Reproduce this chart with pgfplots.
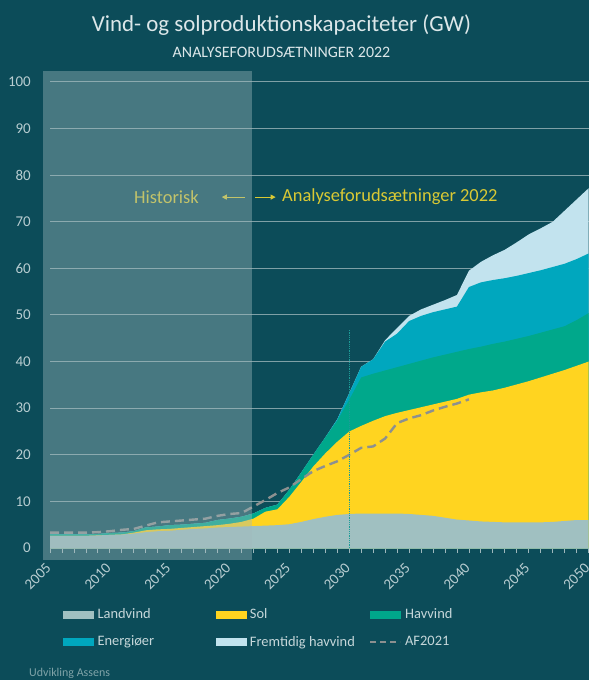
\documentclass[border=0pt]{standalone}
\usepackage{fontspec}
\setmainfont{Carlito}
\usepackage{pgfplots}
\usepackage{pgfplotstable}
\pgfplotsset{compat=1.18}
\usetikzlibrary{arrows.meta}
\definecolor{bg}{HTML}{0C4C59}
\definecolor{gridcol}{HTML}{7FA0A6}
\definecolor{tickcol}{HTML}{9FB8BC}
\definecolor{ticklab}{HTML}{B8CDD1}
\definecolor{titlecol}{HTML}{DCE7E9}
\definecolor{legcol}{HTML}{C6D7DA}
\definecolor{footcol}{HTML}{7FA3A8}
\definecolor{landcol}{HTML}{A0C0C1}
\definecolor{solcol}{HTML}{FFD420}
\definecolor{havcol}{HTML}{00A88B}
\definecolor{enecol}{HTML}{00A7BE}
\definecolor{fremcol}{HTML}{C2E3EE}
\definecolor{afcol}{HTML}{8C9090}
\definecolor{histcol}{HTML}{A0BABD}
\definecolor{annocol}{HTML}{D9C934}
\definecolor{dotcol}{HTML}{1C9C98}

% cumulative tops: L = Landvind, S = +Sol, H = +Havvind, E = +Energioeer, F = +Fremtidig havvind
\pgfplotstableread{
yr   L    S    H    E    F
2005 2.6  2.6  2.9  2.9  2.9
2006 2.6  2.6  2.9  2.9  2.9
2007 2.6  2.6  2.9  2.9  2.9
2008 2.6  2.6  2.9  2.9  2.9
2009 2.7  2.7  3.0  3.0  3.0
2010 2.8  2.8  3.2  3.2  3.2
2011 2.9  2.9  3.3  3.3  3.3
2012 3.1  3.3  3.6  3.6  3.6
2013 3.4  3.8  4.4  4.4  4.4
2014 3.6  4.0  4.6  4.6  4.6
2015 3.7  4.1  4.9  4.9  4.9
2016 3.9  4.3  5.0  5.0  5.0
2017 4.1  4.5  5.2  5.2  5.2
2018 4.2  4.7  5.4  5.4  5.4
2019 4.4  4.9  6.0  6.0  6.0
2020 4.5  5.2  6.3  6.3  6.3
2021 4.6  5.6  6.7  6.7  6.7
2022 4.7  6.3  7.4  7.4  7.4
2023 4.8  7.8  8.6  8.6  8.6
2024 4.9  8.3  9.3  9.3  9.3
2025 5.1  11.0 12.5 12.5 12.5
2026 5.6  14.2 16.2 16.2 16.2
2027 6.2  17.5 20.0 20.0 20.0
2028 6.7  20.3 23.7 23.7 23.7
2029 7.1  22.8 27.3 27.6 27.6
2030 7.3  25.0 31.8 33.2 33.2
2031 7.4  26.2 36.6 38.9 38.9
2032 7.4  27.3 37.4 40.5 40.5
2033 7.4  28.3 38.1 44.3 44.6
2034 7.4  29.0 38.8 46.0 47.2
2035 7.3  29.6 39.5 48.7 49.8
2036 7.1  30.2 40.2 49.8 51.2
2037 6.9  30.8 40.9 50.6 52.2
2038 6.5  31.4 41.5 51.2 53.2
2039 6.1  32.0 42.1 51.8 54.3
2040 5.9  32.9 42.7 56.0 59.5
2041 5.7  33.4 43.2 57.0 61.4
2042 5.6  33.8 43.8 57.5 62.8
2043 5.5  34.4 44.3 57.9 64.0
2044 5.5  35.1 44.9 58.4 65.6
2045 5.5  35.8 45.5 59.0 67.3
2046 5.5  36.6 46.2 59.6 68.6
2047 5.6  37.4 46.9 60.3 70.0
2048 5.8  38.2 47.6 61.0 72.4
2049 6.0  39.1 48.9 62.0 74.8
2050 6.0  40.0 50.4 63.2 77.2
}\stacktable

\pgfplotstableread{
yr   D
2005 3.3
2006 3.3
2007 3.3
2008 3.3
2009 3.4
2010 3.6
2011 3.9
2012 4.1
2013 4.8
2014 5.5
2015 5.7
2016 5.9
2017 6.1
2018 6.3
2019 6.9
2020 7.3
2021 7.5
2022 8.9
2023 10.3
2024 11.8
2025 13.0
2026 14.8
2027 16.5
2028 17.6
2029 18.6
2030 20.0
2031 21.5
2032 21.8
2033 23.5
2034 26.8
2035 27.8
2036 28.5
2037 29.5
2038 30.3
2039 31.0
2040 31.9
}\aftable

\begin{document}
\begin{tikzpicture}
\path[use as bounding box] (0,0) rectangle (589bp,680bp);
\fill[bg] (0,0) rectangle (589bp,680bp);
\clip (0,0) rectangle (589bp,680bp);
\node[text=titlecol, font=\fontsize{23}{27}\selectfont] at (281.5bp,655bp) {Vind- og solproduktionskapaciteter (GW)};
\node[text=titlecol, font=\fontsize{16}{19}\selectfont] at (281.5bp,628bp) {ANALYSEFORUDSÆTNINGER 2022};
\node[text=footcol, font=\fontsize{12}{14}\selectfont, anchor=west, inner sep=0pt] at (29bp,7bp) {Udvikling Assens};
\begin{axis}[
  scale only axis, width=538.6bp, height=466bp,
  at={(50bp,132bp)}, anchor=south west,
  xmin=2005, xmax=2050, ymin=0, ymax=100,
  clip=false,
  axis lines*=left,
  x axis line style={-, draw=tickcol, line width=0.8bp},
  y axis line style={draw=none},
  ytick={0,10,...,100},
  ymajorgrids, grid style={gridcol, line width=1bp},
  ytick style={draw=none},
  xtick={2005,2010,...,2050},
  minor x tick num=4,
  tick align=outside,
  major tick length=5bp, minor tick length=5bp,
  xtick style={draw=tickcol, line width=0.8bp},
  minor x tick style={draw=tickcol, line width=0.8bp},
  /pgf/number format/assume math mode=true,
  /pgf/number format/1000 sep={},
  xticklabel style={rotate=45, anchor=east, text=ticklab, font=\fontsize{15}{18}\selectfont, inner sep=1bp, xshift=-9bp, yshift=-8bp},
  yticklabel style={text=ticklab, font=\fontsize{15}{18}\selectfont, inner sep=0pt, xshift=-14bp},
  legend columns=3,
  legend style={at={(axis description cs:0.024,-0.125)}, anchor=north west, draw=none, fill=none,
    text=legcol, font=\fontsize{14.5}{17}\selectfont, inner sep=0pt,
    nodes={inner sep=2bp}, /tikz/row sep=12bp},
  legend cell align=left,
]
% legend entries in reference order
\addlegendimage{legend image code/.code={\fill[landcol] (0bp,-3.5bp) rectangle (30bp,3.5bp);}}
\addlegendentry{\makebox[118bp][l]{\hspace{2bp}Landvind}}
\addlegendimage{legend image code/.code={\fill[solcol] (0bp,-3.5bp) rectangle (30bp,3.5bp);}}
\addlegendentry{\makebox[119bp][l]{\hspace{2bp}Sol}}
\addlegendimage{legend image code/.code={\fill[havcol] (0bp,-3.5bp) rectangle (30bp,3.5bp);}}
\addlegendentry{\makebox[80bp][l]{\hspace{2bp}Havvind}}
\addlegendimage{legend image code/.code={\fill[enecol] (0bp,-3.5bp) rectangle (30bp,3.5bp);}}
\addlegendentry{\makebox[118bp][l]{\hspace{2bp}Energiøer}}
\addlegendimage{legend image code/.code={\fill[fremcol] (0bp,-3.5bp) rectangle (30bp,3.5bp);}}
\addlegendentry{\makebox[119bp][l]{\hspace{2bp}Fremtidig havvind}}
\addlegendimage{legend image code/.code={\draw[afcol, line width=2.2bp, dash pattern=on 6bp off 4bp] (0bp,0bp) -- (30bp,0bp);}}
\addlegendentry{\makebox[80bp][l]{\hspace{2bp}AF2021}}

\addplot[fill=fremcol, draw=none, forget plot] table[x=yr, y=F] {\stacktable} \closedcycle;
\addplot[fill=enecol, draw=none, forget plot] table[x=yr, y=E] {\stacktable} \closedcycle;
\addplot[fill=havcol, draw=none, forget plot] table[x=yr, y=H] {\stacktable} \closedcycle;
\addplot[fill=solcol, draw=none, forget plot] table[x=yr, y=S] {\stacktable} \closedcycle;
\addplot[fill=landcol, draw=none, forget plot] table[x=yr, y=L] {\stacktable} \closedcycle;
\addplot[afcol, line width=2.4bp, dash pattern=on 9bp off 5bp, forget plot] table[x=yr, y=D] {\aftable};
\addplot[dotcol, line width=0.8bp, densely dotted, forget plot] coordinates {(2030,0) (2030,47)};

\node[text=annocol, font=\fontsize{18.5}{22}\selectfont, inner sep=0pt] at (axis cs:2014.73,75.3) {Historisk};
\draw[annocol, line width=0.9bp, -{Triangle[length=5bp,width=5bp]}] (axis cs:2021.3,75.3) -- (axis cs:2019.35,75.3);

\fill[histcol, opacity=0.4] (axis cs:2004.42,-2.6) rectangle (axis cs:2021.88,102.4);

\draw[annocol, line width=0.9bp, -{Triangle[length=5bp,width=5bp]}] (axis cs:2022.15,75.3) -- (axis cs:2023.85,75.3);
\node[text=annocol, font=\fontsize{18.5}{22}\selectfont, inner sep=0pt, anchor=west] at (axis cs:2024.38,75.3) {Analyseforudsætninger 2022};
\end{axis}
\end{tikzpicture}
\end{document}
